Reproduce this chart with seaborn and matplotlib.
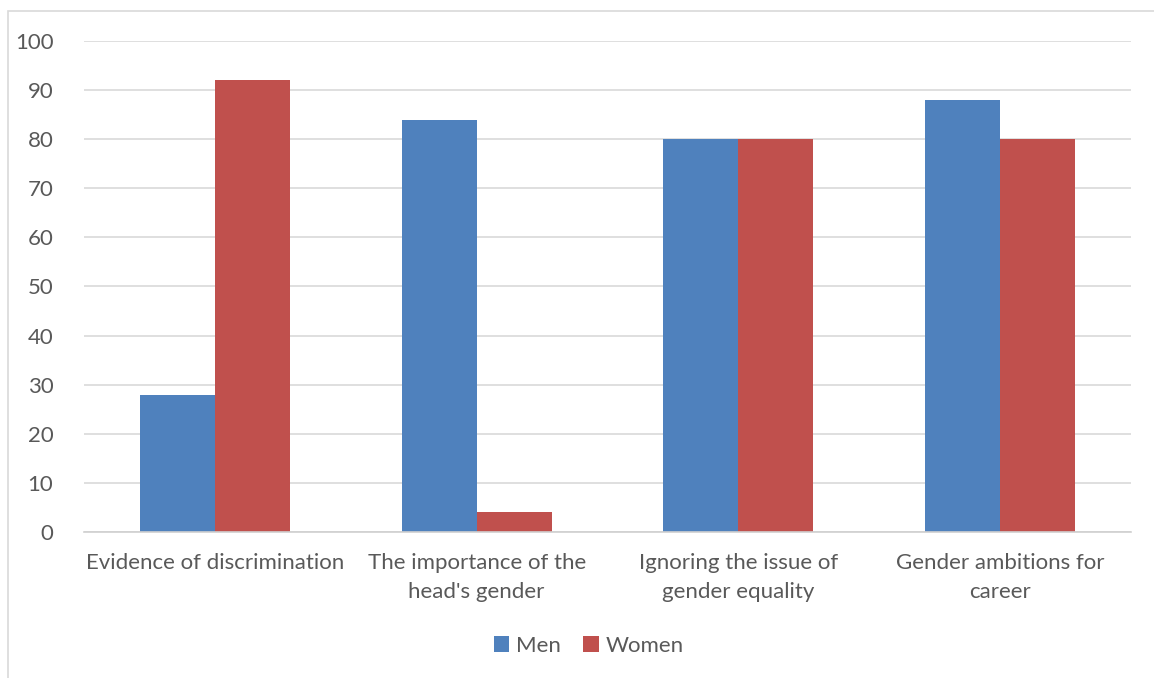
import pandas as pd
import matplotlib.pyplot as plt
import seaborn as sns
from matplotlib.patches import Rectangle

categories = ["Evidence of discrimination", "The importance of the\nhead's gender",
              "Ignoring the issue of\ngender equality", "Gender ambitions for\ncareer"]
men = [28, 84, 80, 88]
women = [92, 4, 80, 80]
series = ["Men", "Women"]
palette = {"Men": "#4F81BD", "Women": "#C0504D"}

df = pd.DataFrame({
    "category": categories * 2,
    "value": men + women,
    "gender": ["Men"] * 4 + ["Women"] * 4,
})

sns.set_style("white")
plt.rcParams["font.family"] = ["Lato", "DejaVu Sans"]
text_color = "#595959"

fig = plt.figure(figsize=(11.54, 6.78), dpi=100)
ax = fig.add_axes([84 / 1154, 1 - 532 / 678, (1131 - 84) / 1154, (532 - 41) / 678])

sns.barplot(data=df, x="category", y="value", hue="gender", palette=palette,
            width=0.573, saturation=1, linewidth=0, ax=ax, legend=True)

ax.set_xlim(-0.5, 3.5)
ax.set_ylim(0, 100)
ax.set_yticks(range(0, 101, 10))
ax.yaxis.grid(True, color="#D9D9D9", linewidth=1.2)
ax.set_axisbelow(True)
ax.set_xlabel("")
ax.set_ylabel("")
for s in ["top", "right", "left"]:
    ax.spines[s].set_visible(False)
ax.spines["bottom"].set_color("#D0D0D0")
ax.spines["bottom"].set_linewidth(1.2)
ax.tick_params(axis="both", length=0, labelsize=16, colors=text_color)
ax.tick_params(axis="x", pad=15)
ax.tick_params(axis="y", pad=22)
for lbl in ax.get_xticklabels():
    lbl.set_linespacing(1.55)

ax.legend(loc="center", bbox_to_anchor=(0.482, -0.232), ncol=2, frameon=False,
          fontsize=16, labelcolor=text_color, handlelength=0.7, handleheight=0.7,
          handletextpad=0.3, columnspacing=1.0)

fig.patches.append(Rectangle((8 / 1154, -0.1), 1.2, 1 - 11 / 678 + 0.1,
                             transform=fig.transFigure, fill=False,
                             edgecolor="#D9D9D9", linewidth=1.2))

fig.savefig("out.png", dpi=100)
